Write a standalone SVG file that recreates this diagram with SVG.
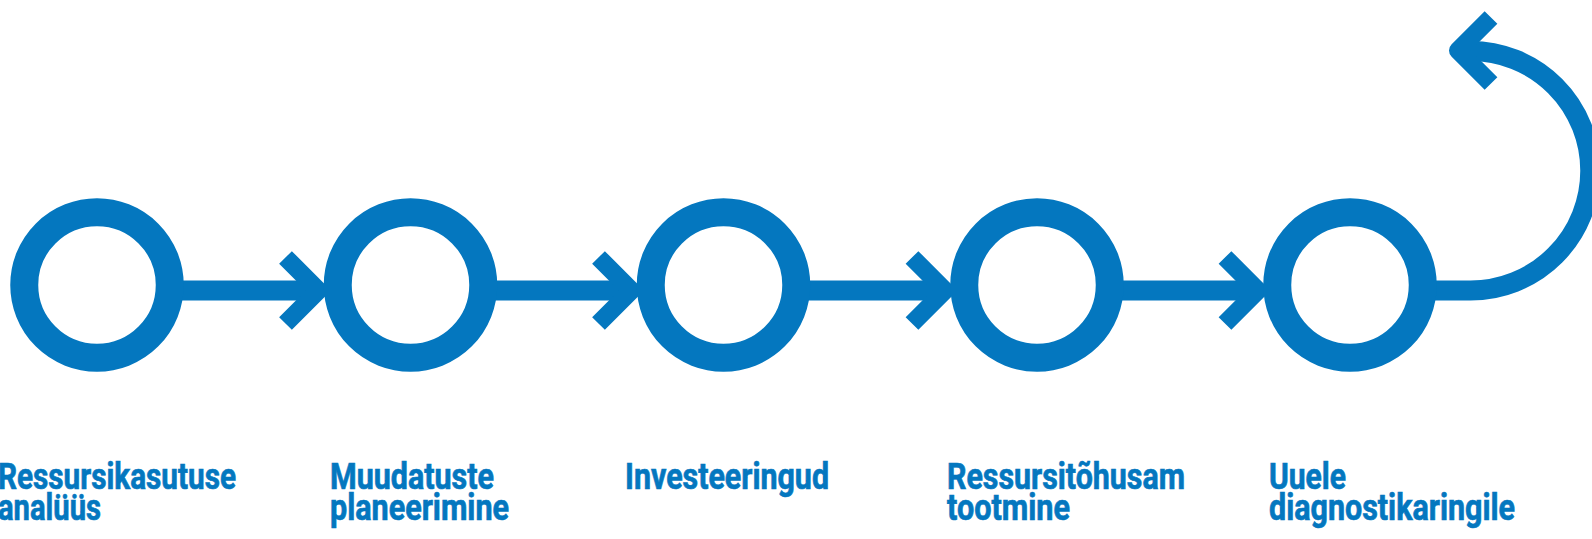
<svg xmlns="http://www.w3.org/2000/svg" width="1592" height="539" viewBox="0 0 1592 539">
  <style>
    .ring { fill: none; stroke: #0477BF; stroke-width: 28; }
    .line { fill: none; stroke: #0477BF; stroke-width: 20; }
    .head { fill: none; stroke: #0477BF; stroke-width: 18; stroke-linejoin: round; stroke-linecap: butt; }
    .lbl { font-family: Roboto, "Liberation Sans", sans-serif; font-weight: bold; font-size: 37px; fill: #0477BF; stroke: #0477BF; stroke-width: 0.7; }
  </style>
  <rect width="1592" height="539" fill="#ffffff"/>
  <g id="connectors">
    <line class="line" x1="170" y1="290.5" x2="318" y2="290.5"/>
    <polyline class="head" points="285.5,257.5 318.5,290.5 285.5,323.5"/>
    <line class="line" x1="483" y1="290.5" x2="631" y2="290.5"/>
    <polyline class="head" points="598.5,257.5 631.5,290.5 598.5,323.5"/>
    <line class="line" x1="796" y1="290.5" x2="945" y2="290.5"/>
    <polyline class="head" points="912,257.5 945,290.5 912,323.5"/>
    <line class="line" x1="1110" y1="290.5" x2="1258" y2="290.5"/>
    <polyline class="head" points="1225,257.5 1258,290.5 1225,323.5"/>
    <path class="line" d="M1420 290.5 H1470.5 A119.75 119.75 0 0 0 1470.5 51 H1458"/>
    <polyline class="head" points="1491,17.5 1458,50.5 1491,83.5"/>
  </g>
  <g id="node1">
    <circle class="ring" cx="97" cy="285" r="72.75"/>
    <text class="lbl" x="-2" y="489" textLength="238" lengthAdjust="spacingAndGlyphs">Ressursikasutuse</text>
    <text class="lbl" x="-2" y="520" textLength="103" lengthAdjust="spacingAndGlyphs">analüüs</text>
  </g>
  <g id="node2">
    <circle class="ring" cx="410.5" cy="285" r="72.75"/>
    <text class="lbl" x="330" y="489" textLength="164" lengthAdjust="spacingAndGlyphs">Muudatuste</text>
    <text class="lbl" x="330" y="520" textLength="179" lengthAdjust="spacingAndGlyphs">planeerimine</text>
  </g>
  <g id="node3">
    <circle class="ring" cx="723.5" cy="285" r="72.75"/>
    <text class="lbl" x="625" y="489" textLength="204" lengthAdjust="spacingAndGlyphs">Investeeringud</text>
  </g>
  <g id="node4">
    <circle class="ring" cx="1037" cy="285" r="72.75"/>
    <text class="lbl" x="947" y="489" textLength="238" lengthAdjust="spacingAndGlyphs">Ressursitõhusam</text>
    <text class="lbl" x="947" y="520" textLength="123" lengthAdjust="spacingAndGlyphs">tootmine</text>
  </g>
  <g id="node5">
    <circle class="ring" cx="1350" cy="285" r="72.75"/>
    <text class="lbl" x="1269" y="489" textLength="77" lengthAdjust="spacingAndGlyphs">Uuele</text>
    <text class="lbl" x="1269" y="520" textLength="246" lengthAdjust="spacingAndGlyphs">diagnostikaringile</text>
  </g>
</svg>
